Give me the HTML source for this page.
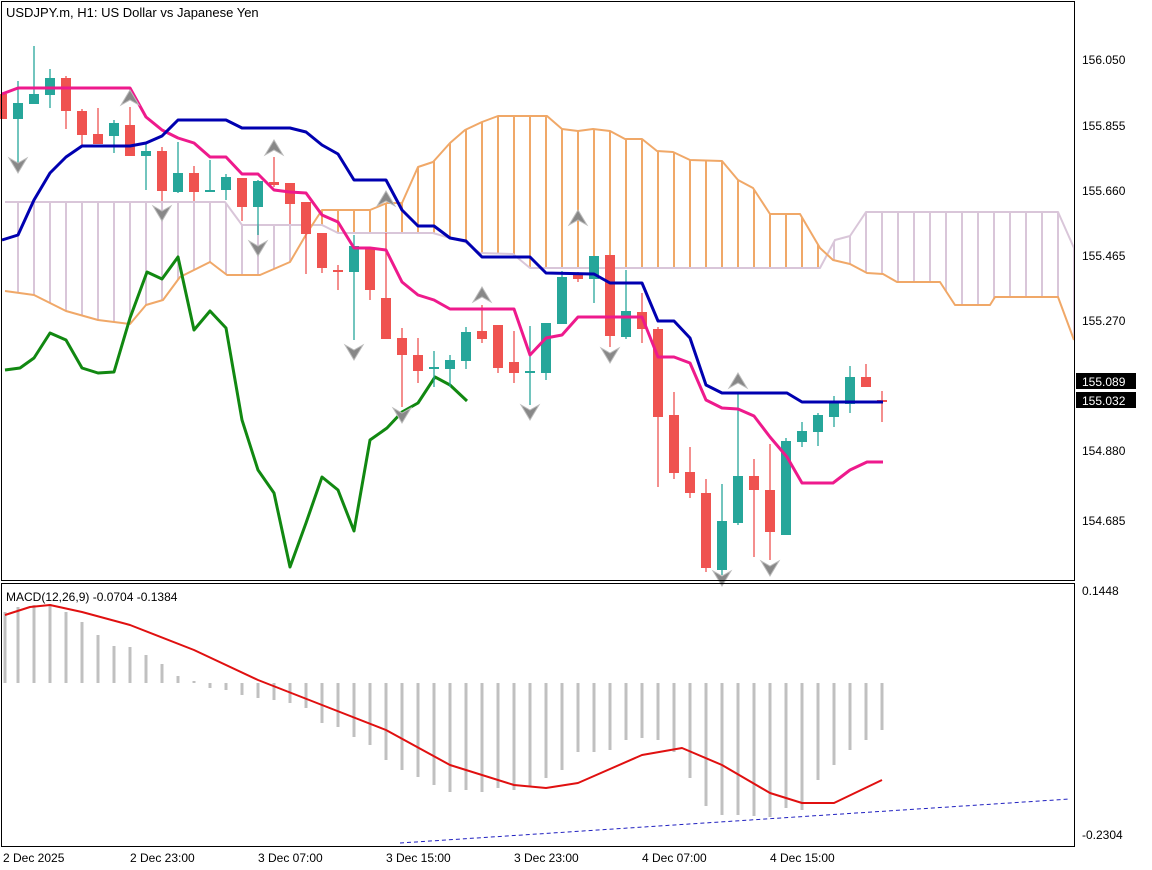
<!DOCTYPE html>
<html><head><meta charset="utf-8"><style>
html,body{margin:0;padding:0;background:#fff;}
svg{display:block;font-family:"Liberation Sans",sans-serif;}
</style></head><body>
<svg id="s" width="1152" height="870" xmlns="http://www.w3.org/2000/svg">
<rect x="0" y="0" width="1152" height="870" fill="#fff"/>
<g id="g"></g>
<rect x="1.5" y="1.5" width="1073" height="579" fill="none" stroke="#000" stroke-width="1"/>
<rect x="1.5" y="583.5" width="1073" height="263" fill="none" stroke="#000" stroke-width="1"/>
<text x="6" y="17" font-size="13">USDJPY.m, H1:  US Dollar vs Japanese Yen</text>
<text x="6" y="601" font-size="12">MACD(12,26,9) -0.0704 -0.1384</text>
<g font-size="12" fill="#000">
<text x="1082" y="64">156.050</text><text x="1082" y="130">155.855</text><text x="1082" y="195">155.660</text>
<text x="1082" y="260">155.465</text><text x="1082" y="325">155.270</text><text x="1082" y="455">154.880</text>
<text x="1082" y="525">154.685</text><text x="1082" y="595">0.1448</text><text x="1082" y="839">-0.2304</text>
<text x="3" y="862">2 Dec 2025</text><text x="130" y="862">2 Dec 23:00</text><text x="258" y="862">3 Dec 07:00</text>
<text x="386" y="862">3 Dec 15:00</text><text x="514" y="862">3 Dec 23:00</text><text x="642" y="862">4 Dec 07:00</text>
<text x="770" y="862">4 Dec 15:00</text>
</g>
<rect x="1076" y="373" width="60" height="16" fill="#000"/><text x="1082" y="386" font-size="12" fill="#fff">155.089</text>
<rect x="1076" y="392" width="60" height="16" fill="#000"/><text x="1082" y="405" font-size="12" fill="#fff">155.032</text>
</svg>
<script>
var g=document.getElementById('g'),h='';
function pl(pts,c,w,extra){h+='<polyline fill="none" stroke="'+c+'" stroke-width="'+w+'" '+(extra||'')+' stroke-linejoin="round" points="'+pts.map(function(p){return p.join(',')}).join(' ')+'"/>';}
// cloud
var A=[[5,291],[34,295],[66,311],[98,320],[130,324],[146,305],[163,300],[180,277],[210,262],[227,275],[260,275],[290,262],[307,233],[322,210],[370,210],[387,203],[402,203],[418,167],[433,162],[450,143],[465,130],[482,122],[498,116],[547,116],[562,129],[578,131],[593,129],[610,131],[625,139],[642,139],[657,151],[673,152],[690,160],[722,161],[738,180],[753,188],[770,214],[800,214],[820,248],[833,260],[850,264],[867,273],[883,274],[897,282],[940,282],[955,305],[990,305],[995,297],[1058,297],[1074,340]];
var B=[[5,202],[225,202],[242,225],[322,225],[338,233],[433,233],[450,238],[465,242],[480,253],[513,254],[530,268],[820,268],[835,240],[850,236],[866,212],[1058,212],[1074,248]];
function iy(L,x){for(var i=0;i<L.length-1;i++){if(x>=L[i][0]&&x<=L[i+1][0]){var t=(x-L[i][0])/(L[i+1][0]-L[i][0]||1);return L[i][1]+t*(L[i+1][1]-L[i][1]);}}return L[L.length-1][1];}
for(var x=18;x<=1074;x+=16){var a=iy(A,x),b=iy(B,x);h+='<line x1="'+x+'" y1="'+a+'" x2="'+x+'" y2="'+b+'" stroke="'+(a<b?'#f0a868':'#d9c6d9')+'" stroke-width="2"/>';}
pl(B,'#d9c6d9',2);pl(A,'#f0a868',2);
// chikou
pl([[5,370],[20,368],[34,358],[50,333],[66,340],[82,368],[98,373],[114,372],[130,318],[147,272],[162,279],[178,257],[194,330],[210,311],[226,328],[242,420],[258,470],[274,493],[290,567],[306,523],[322,477],[338,490],[354,531],[370,440],[387,428],[402,412],[418,403],[435,377],[450,385],[467,401]],'#118811',3);
// candles [x,o,c,hi,lo,up]
var C=[[2,94,119,94,119,0],[18,119,103,81,168,1],[34,104,94,46,104,1],[50,95,78,69,108,1],[66,78,111,76,129,0],[82,111,135,109,145,0],[98,134,144,108,144,0],[114,136,123,120,153,1],[130,125,156,107,156,0],[146,156,151,143,190,1],[162,151,191,147,201,0],[178,192,173,142,193,1],[194,173,192,166,201,0],[210,192,190,160,192,1],[226,190,177,174,200,1],[242,178,207,178,221,0],[258,207,181,180,235,1],[274,182,185,157,187,0],[290,183,204,183,224,0],[306,202,234,202,274,0],[322,233,268,233,273,0],[338,270,272,265,290,0],[354,272,246,235,340,1],[370,248,290,248,300,0],[386,298,339,233,339,0],[402,338,355,328,407,0],[418,355,371,338,383,0],[434,369,367,351,387,1],[450,369,360,355,387,1],[466,361,332,327,369,1],[482,331,339,305,343,0],[498,325,368,325,373,0],[514,362,373,331,383,0],[530,373,371,326,405,1],[546,373,323,323,380,1],[562,324,277,271,324,1],[578,273,279,272,282,0],[594,279,256,256,303,1],[610,255,336,255,347,0],[626,337,311,270,339,1],[642,312,329,293,343,0],[658,329,417,327,487,0],[674,415,473,392,479,0],[690,472,493,447,498,0],[706,493,568,479,572,0],[722,570,521,484,575,1],[738,523,476,392,525,1],[754,476,490,459,557,0],[770,490,532,444,560,0],[786,535,441,438,535,1],[802,442,431,422,447,1],[818,432,415,413,446,1],[834,417,403,396,427,1],[850,404,377,366,413,1],[866,377,387,364,387,0],[882,400,401,391,422,0]];
C.forEach(function(c){var col=c[5]?'#26a69a':'#ef5350';var t=Math.min(c[1],c[2]),b=Math.max(c[1],c[2]);
h+='<line x1="'+c[0]+'" y1="'+c[3]+'" x2="'+c[0]+'" y2="'+c[4]+'" stroke="'+col+'" stroke-width="1.3"/>';
h+='<rect x="'+(c[0]-5)+'" y="'+t+'" width="10" height="'+Math.max(b-t,2)+'" fill="'+col+'"/>';});
// tenkan / kijun
pl([[2,94],[18,88],[130,88],[146,117],[162,130],[178,138],[194,143],[210,157],[226,157],[242,174],[258,174],[274,190],[290,192],[306,193],[322,215],[338,222],[354,248],[370,248],[386,250],[402,282],[418,295],[434,300],[450,309],[514,309],[530,355],[546,338],[562,335],[578,317],[642,317],[658,357],[674,357],[690,363],[706,400],[722,408],[738,409],[754,416],[770,437],[787,457],[802,483],[833,483],[850,470],[867,462],[883,462]],'#ee1a8c',3);
pl([[2,240],[18,235],[34,200],[50,173],[66,157],[82,146],[130,146],[146,143],[162,136],[178,120],[226,120],[242,128],[290,128],[306,132],[322,145],[338,154],[354,180],[386,180],[402,210],[418,226],[434,226],[450,238],[466,241],[482,257],[530,257],[546,273],[594,274],[610,283],[642,283],[658,321],[674,321],[690,338],[706,385],[722,393],[787,393],[802,402],[883,402]],'#0000b0',3);
// fractal arrows
function up(x,y){h+='<polygon points="'+x+','+(y-8)+' '+(x+9)+','+(y+7)+' '+x+','+(y+2)+' '+(x-9)+','+(y+7)+'" fill="#888" stroke="#bbb" stroke-width="1"/>';}
function dn(x,y){h+='<polygon points="'+x+','+(y+8)+' '+(x+9)+','+(y-7)+' '+x+','+(y-2)+' '+(x-9)+','+(y-7)+'" fill="#888" stroke="#bbb" stroke-width="1"/>';}
[[130,98],[274,148],[386,199],[482,295],[578,218],[738,381]].forEach(function(p){up(p[0],p[1]);});
[[18,165],[162,213],[258,248],[354,352],[402,415],[530,412],[610,355],[722,578],[770,568]].forEach(function(p){dn(p[0],p[1]);});
// MACD histogram
var Z=683,H=[[5,612],[18,607],[34,605],[50,604],[66,612],[82,622],[98,635],[114,646],[130,647],[146,655],[162,664],[178,676],[194,681],[210,688],[226,690],[242,695],[258,698],[274,700],[290,703],[306,708],[322,723],[338,727],[354,737],[370,745],[386,760],[402,770],[418,777],[434,785],[450,792],[466,790],[482,792],[498,788],[514,790],[530,787],[546,778],[562,770],[578,752],[594,752],[610,750],[626,740],[642,738],[658,740],[674,752],[690,778],[706,806],[722,815],[738,815],[754,816],[770,817],[786,808],[802,810],[818,780],[834,765],[850,750],[866,740],[882,730]];
H.forEach(function(p){h+='<rect x="'+(p[0]-1.5)+'" y="'+Math.min(Z,p[1])+'" width="3" height="'+Math.abs(p[1]-Z)+'" fill="#c0c0c0"/>';});
pl([[5,615],[30,607],[50,605],[82,612],[130,625],[194,650],[258,680],[322,705],[386,730],[450,765],[514,785],[546,788],[578,783],[642,755],[682,748],[722,765],[770,793],[802,803],[834,803],[882,780]],'#e01010',2);
h+='<line x1="400" y1="843" x2="1070" y2="799" stroke="#2020c0" stroke-width="1" stroke-dasharray="4,3"/>';
g.innerHTML=h;
</script>
</body></html>
